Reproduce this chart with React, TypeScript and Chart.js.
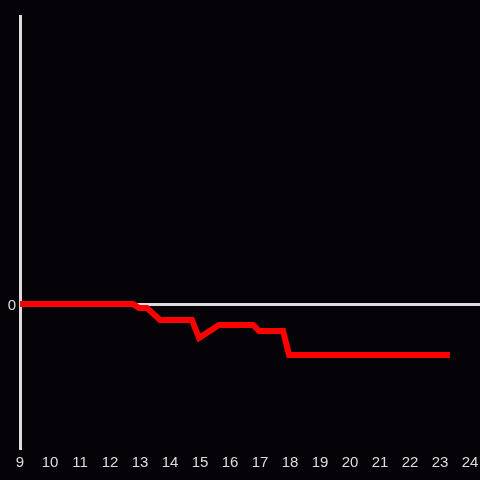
import React, { useEffect, useRef } from "react";
import { Chart, registerables } from "chart.js";

Chart.register(...registerables);

const xValues = [9, 12.77, 12.97, 13.23, 13.67, 14.73, 14.97, 15.63, 16.77, 16.97, 17.77, 17.97, 23.33];
const yValues = [0, 0, -4, -4, -16, -16, -34, -21, -21, -27, -27, -51, -51];
const xTicks = [9, 10, 11, 12, 13, 14, 15, 16, 17, 18, 19, 20, 21, 22, 23, 24];

const BG = "#050307";
const AXIS = "#dddddd";
const FONT = "Liberation Sans, Arial, sans-serif";

export default function App() {
  const ref = useRef<HTMLCanvasElement>(null);
  useEffect(() => {
    document.body.style.margin = "0";
    document.body.style.background = BG;
    const bgPlugin = {
      id: "bg",
      beforeDraw(chart: any) {
        const c = chart.ctx;
        c.save();
        c.fillStyle = BG;
        c.fillRect(0, 0, chart.width, chart.height);
        c.restore();
      },
    };
    const chart = new Chart(ref.current!, {
      type: "line",
      data: {
        datasets: [
          {
            data: xValues.map((x, i) => ({ x, y: yValues[i] })),
            borderColor: "#ff0000",
            borderWidth: 6,
            pointRadius: 0,
            tension: 0,
            fill: false,
          },
        ],
      },
      options: {
        animation: false,
        responsive: false,
        layout: { padding: { top: 16, right: 0, left: 0, bottom: 0 } },
        plugins: { legend: { display: false }, tooltip: { enabled: false } },
        scales: {
          x: {
            type: "linear",
            min: 9,
            max: 24 + 1 / 3,
            afterBuildTicks: (s: any) => {
              s.ticks = xTicks.map((v) => ({ value: v }));
            },
            afterFit: (s: any) => {
              s.height = 32;
              s.paddingLeft = 0;
              s.paddingRight = 0;
            },
            grid: { display: false },
            border: { display: false },
            ticks: { color: AXIS, font: { size: 15, family: FONT }, padding: -2, maxRotation: 0 },
          },
          y: {
            min: -144,
            max: 288,
            afterBuildTicks: (s: any) => {
              s.ticks = [{ value: 0 }];
            },
            afterFit: (s: any) => {
              s.width = 20;
              s.paddingTop = 0;
              s.paddingBottom = 0;
            },
            grid: { color: AXIS, lineWidth: 3, drawTicks: false },
            border: { display: true, color: AXIS, width: 3 },
            ticks: { color: AXIS, font: { size: 15, family: FONT }, padding: 4, labelOffset: 2 },
          },
        },
      },
      plugins: [bgPlugin],
    });
    return () => chart.destroy();
  }, []);
  return <canvas ref={ref} width={480} height={480} style={{ display: "block" }} />;
}
